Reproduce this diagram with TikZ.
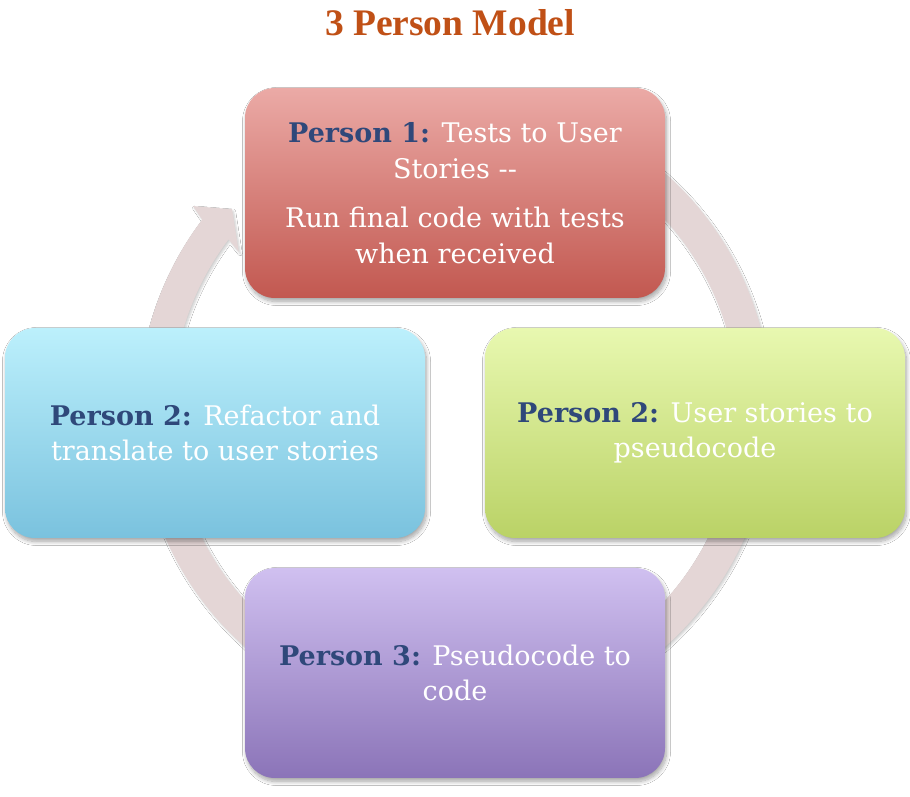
\documentclass[tikz,border=0pt]{standalone}
\usepackage{fontspec}
\setmainfont{DejaVu Serif}
\newfontfamily\titlefont{Liberation Serif}
\usetikzlibrary{calc,shadows.blur}
\definecolor{titlecol}{RGB}{192,80,22}
\definecolor{labcol}{RGB}{47,72,122}
\definecolor{ringcol}{RGB}{228,214,214}
\definecolor{redtop}{RGB}{235,170,166}
\definecolor{redbot}{RGB}{194,88,80}
\definecolor{cyantop}{RGB}{188,240,252}
\definecolor{cyanbot}{RGB}{122,194,222}
\definecolor{greentop}{RGB}{232,248,176}
\definecolor{greenbot}{RGB}{186,210,102}
\definecolor{purptop}{RGB}{208,192,240}
\definecolor{purpbot}{RGB}{139,116,184}
\newcommand{\lab}[1]{\textcolor{labcol}{\bfseries #1}}
\begin{document}
\begin{tikzpicture}[x=1pt,y=1pt,
  stagebox/.style={rounded corners=30pt, minimum width=420pt, minimum height=210pt,
    inner sep=0pt, align=center, text=white,
    font=\fontsize{27}{35.5}\selectfont,
    blur shadow={shadow xshift=1.5pt, shadow yshift=-3.5pt, shadow blur steps=10, shadow blur radius=4pt, shadow opacity=35}},
  ringshape/.style={fill=ringcol,
    blur shadow={shadow xshift=1.5pt, shadow yshift=-2pt, shadow blur steps=5, shadow opacity=20}}]
\useasboundingbox (0,0) rectangle (910,797);
\fill[white] (0,0) rectangle (910,797);
\node (title) at (450,774) {\titlefont\fontsize{37.5}{42}\selectfont\bfseries\textcolor{titlecol}{3 Person Model}};
\coordinate (C) at (455,387);
% cycle arrow
\path[ringshape] ($(C)+(143:316.5)$) arc[start angle=143, end angle=458, radius=316.5]
  -- ($(C)+(458:283.5)$) arc[start angle=458, end angle=143, radius=283.5]
  -- ($(C)+(143.8:268)$) -- ($(C)+(138:300)$) -- ($(C)+(142.1:332)$) -- cycle;
% stages
\node[stagebox, top color=redtop, bottom color=redbot] (p1) at (455,604)
  {\lab{Person 1:} Tests to User\\ Stories -{}-\\[14pt] Run final code with tests\\ when received};
\node[stagebox, top color=greentop, bottom color=greenbot] (p2r) at (695,364)
  {\lab{Person 2:} User stories to\\ pseudocode};
\node[stagebox, top color=purptop, bottom color=purpbot] (p3) at (455,124)
  {\lab{Person 3:} Pseudocode to\\ code};
\node[stagebox, top color=cyantop, bottom color=cyanbot] (p2l) at (215,364)
  {\lab{Person 2:} Refactor and\\ translate to user stories};
\end{tikzpicture}
\end{document}
